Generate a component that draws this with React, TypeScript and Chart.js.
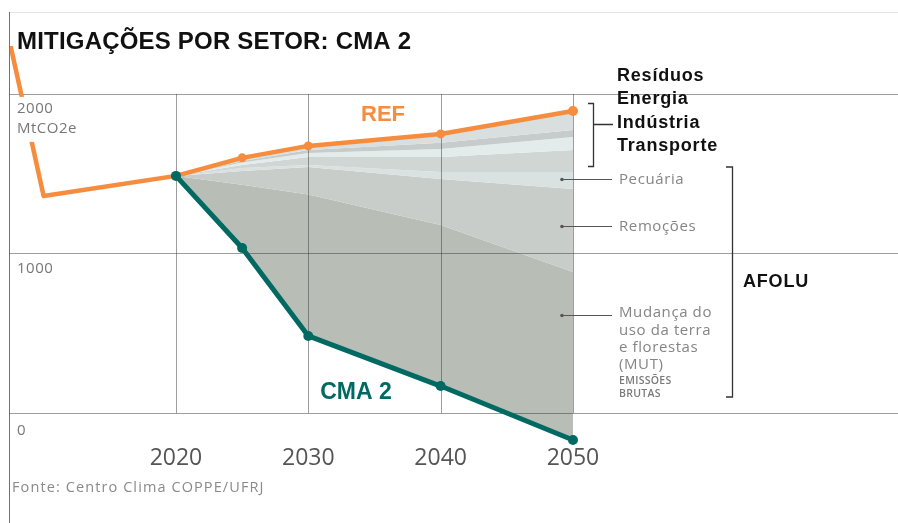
import React, { useEffect, useRef } from "react";
import { Chart, registerables } from "chart.js";

Chart.register(...registerables);

// ---- data ----
const refYears = [2005, 2010, 2020, 2025, 2030, 2040, 2050];
const refValues = [3245, 1360, 1486, 1599, 1674, 1749, 1893];
const bandYears = [2020, 2025, 2030, 2040, 2050];
const refBand = [1486, 1599, 1674, 1749, 1893];
const afterResiduos = [1486, 1580, 1649, 1693, 1774];
const afterEnergia = [1486, 1570, 1630, 1655, 1730];
const afterIndustria = [1486, 1555, 1605, 1605, 1649];
const afterTransporte = [1486, 1535, 1555, 1511, 1511];
const afterPecuaria = [1486, 1517, 1542, 1467, 1404];
const afterRemocoes = [1486, 1430, 1370, 1179, 884];
const cma2Values = [1486, 1034, 483, 169, -169];
const xTicks = [2020, 2030, 2040, 2050];
const yGrid = [0, 1000, 2000];
const yLabels = ["0", "1000", "2000"];
const sectorLabels = ["Resíduos", "Energia", "Indústria", "Transporte"];
const mutLines = ["Mudança do", "uso da terra", "e florestas", "(MUT)"];
const mutSmall = ["EMISSÕES", "BRUTAS"];

const ORANGE = "#f68c3e";
const TEAL = "#006a62";
const bandColors = ["#d8dfde", "#c6cccb", "#e4eceb", "#d0d6d4", "#d9e2e1", "#c8cdca", "#b8bdb6"];

const toPts = (xs: number[], ys: number[]) => xs.map((x, i) => ({ x, y: ys[i] }));

const overlay = {
  id: "overlay",
  afterDatasetDraw(chart: any, args: any) {
    if (args.index !== 2) return;
    const ctx = chart.ctx;
    const xs = chart.scales.x;
    const ys = chart.scales.y;
    const ca = chart.chartArea;
    ctx.save();
    ctx.strokeStyle = "rgba(60,60,60,0.5)";
    ctx.lineWidth = 1;
    yGrid.forEach((v) => {
      const y = Math.round(ys.getPixelForValue(v)) + 0.5;
      ctx.beginPath();
      ctx.moveTo(ca.left, y);
      ctx.lineTo(chart.width, y);
      ctx.stroke();
    });
    const yTop = ys.getPixelForValue(2000);
    const yBot = ys.getPixelForValue(0);
    xTicks.forEach((v) => {
      const x = Math.round(xs.getPixelForValue(v)) + 0.5;
      ctx.beginPath();
      ctx.moveTo(x, yTop);
      ctx.lineTo(x, yBot);
      ctx.stroke();
    });
    ctx.restore();
  },
  afterDatasetsDraw(chart: any) {
    const ctx = chart.ctx;
    const xs = chart.scales.x;
    const ys = chart.scales.y;
    ctx.save();
    // frame
    ctx.lineWidth = 1;
    ctx.strokeStyle = "#e4e4e4";
    ctx.beginPath();
    ctx.moveTo(9, 12.5);
    ctx.lineTo(898, 12.5);
    ctx.stroke();
    ctx.strokeStyle = "#5a7896";
    ctx.beginPath();
    ctx.moveTo(9.5, 12);
    ctx.lineTo(9.5, 523);
    ctx.stroke();

    // title
    ctx.fillStyle = "#111";
    ctx.textBaseline = "alphabetic";
    ctx.textAlign = "left";
    ctx.font = "bold 24px 'Liberation Sans', Arial, sans-serif";
    (ctx as any).letterSpacing = "0.2px";
    ctx.fillText("MITIGAÇÕES POR SETOR: CMA 2", 17, 49);
    (ctx as any).letterSpacing = "0px";

    // y labels
    const y2000 = ys.getPixelForValue(2000);
    ctx.fillStyle = "#fff";
    ctx.fillRect(11, y2000 + 3, 68, 45);
    ctx.fillStyle = "#777";
    ctx.font = "15px 'Open Sans', sans-serif";
    ctx.textBaseline = "middle";
    (ctx as any).letterSpacing = "0.5px";
    ctx.fillText(yLabels[2], 17, y2000 + 15);
    ctx.fillText("MtCO2e", 17, y2000 + 35);
    ctx.fillText(yLabels[1], 17, ys.getPixelForValue(1000) + 15);
    ctx.fillText(yLabels[0], 17, ys.getPixelForValue(0) + 18);
    (ctx as any).letterSpacing = "0px";

    // series labels
    ctx.textAlign = "center";
    ctx.fillStyle = ORANGE;
    ctx.font = "bold 22px 'Liberation Sans', Arial, sans-serif";
    ctx.fillText("REF", 383, 115);
    ctx.fillStyle = TEAL;
    ctx.font = "bold 23px 'Liberation Sans', Arial, sans-serif";
    ctx.fillText("CMA 2", 356, 393);

    // sector labels
    ctx.textAlign = "left";
    ctx.textBaseline = "alphabetic";
    ctx.fillStyle = "#111";
    ctx.font = "bold 18px 'Liberation Sans', Arial, sans-serif";
    (ctx as any).letterSpacing = "0.8px";
    sectorLabels.forEach((t, i) => ctx.fillText(t, 617, 81 + i * 23.3));
    ctx.fillText("AFOLU", 743, 287);
    (ctx as any).letterSpacing = "0px";

    // brackets
    ctx.strokeStyle = "#333";
    ctx.lineWidth = 1.3;
    ctx.beginPath();
    ctx.moveTo(588, 103.5);
    ctx.lineTo(593.5, 103.5);
    ctx.lineTo(593.5, 166.5);
    ctx.lineTo(588, 166.5);
    ctx.moveTo(593.5, 124.5);
    ctx.lineTo(613, 124.5);
    ctx.moveTo(726, 167);
    ctx.lineTo(732.5, 167);
    ctx.lineTo(732.5, 397);
    ctx.lineTo(726, 397);
    ctx.stroke();

    // leader lines
    const x50 = xs.getPixelForValue(2050);
    const leaders = [179.5, 226.5, 315.5];
    ctx.strokeStyle = "#555";
    ctx.lineWidth = 1;
    ctx.fillStyle = "#555";
    leaders.forEach((y) => {
      ctx.beginPath();
      ctx.moveTo(x50 - 11, y);
      ctx.lineTo(612, y);
      ctx.stroke();
      ctx.beginPath();
      ctx.arc(x50 - 11, y, 1.8, 0, Math.PI * 2);
      ctx.fill();
    });

    ctx.fillStyle = "#858585";
    ctx.font = "15px 'Open Sans', sans-serif";
    ctx.textBaseline = "middle";
    (ctx as any).letterSpacing = "0.6px";
    ctx.fillText("Pecuária", 619, 180);
    ctx.fillText("Remoções", 619, 227);
    mutLines.forEach((t, i) => ctx.fillText(t, 619, 313 + i * 17.3));
    ctx.font = "600 10.5px 'Open Sans', sans-serif";
    ctx.fillStyle = "#7a7a7a";
    (ctx as any).letterSpacing = "0.3px";
    mutSmall.forEach((t, i) => ctx.fillText(t, 619, 381 + i * 13));

    // source
    ctx.font = "14.5px 'Open Sans', sans-serif";
    ctx.fillStyle = "#8a8a8a";
    (ctx as any).letterSpacing = "1.1px";
    ctx.fillText("Fonte: Centro Clima COPPE/UFRJ", 12, 488);
    (ctx as any).letterSpacing = "0px";
    ctx.restore();
  },
};

export default function App() {
  const ref = useRef<HTMLCanvasElement | null>(null);
  useEffect(() => {
    if (!ref.current) return;
    const boundaries = [refBand, afterResiduos, afterEnergia, afterIndustria, afterTransporte, afterPecuaria, afterRemocoes, cma2Values];
    const chart = new Chart(ref.current, {
      type: "line",
      data: {
        datasets: [
          {
            label: "CMA 2",
            data: toPts(bandYears, cma2Values),
            borderColor: TEAL,
            backgroundColor: TEAL,
            borderWidth: 5,
            pointRadius: 5,
            pointHoverRadius: 5,
            pointBackgroundColor: TEAL,
            pointBorderWidth: 0,
            borderJoinStyle: "round",
            borderCapStyle: "round",
            fill: false,
            tension: 0,
          },
          {
            label: "REF",
            data: toPts(refYears, refValues),
            borderColor: ORANGE,
            backgroundColor: ORANGE,
            borderWidth: 4.5,
            pointRadius: [0, 0, 4.5, 4.5, 4.5, 4.5, 5],
            pointHoverRadius: 0,
            pointBackgroundColor: ORANGE,
            pointBorderWidth: 0,
            borderJoinStyle: "round",
            borderCapStyle: "round",
            fill: false,
            tension: 0,
            clip: 0,
          },
          ...boundaries.map((vals, i) => ({
            label: "b" + i,
            data: toPts(bandYears, vals),
            borderColor: "rgba(0,0,0,0)",
            borderWidth: 0,
            pointRadius: 0,
            pointHoverRadius: 0,
            fill: i < bandColors.length ? "+1" : false,
            backgroundColor: i < bandColors.length ? bandColors[i] : "rgba(0,0,0,0)",
            tension: 0,
          })),
        ] as any,
      },
      options: {
        animation: false,
        responsive: false,
        devicePixelRatio: 1,
        events: [],
        layout: { autoPadding: false, padding: { left: 10, top: 46, right: 0, bottom: 0 } },
        plugins: { legend: { display: false }, tooltip: { enabled: false } },
        scales: {
          x: {
            type: "linear",
            min: 2007.46,
            max: 2074.56,
            grid: { display: false, drawTicks: false },
            border: { display: false },
            ticks: {
              color: "#555",
              font: { family: "'Open Sans', sans-serif", size: 23 },
              padding: -2,
              autoSkip: false,
              maxRotation: 0,
              callback: (v: any) => String(v),
            },
            afterBuildTicks: (s: any) => {
              s.ticks = xTicks.map((v) => ({ value: v }));
            },
            afterFit: (s: any) => {
              s.height = 76;
              s.paddingLeft = 0;
              s.paddingRight = 0;
            },
          },
          y: { min: -213, max: 2300, display: false },
        },
      } as any,
      plugins: [overlay],
    });
    return () => chart.destroy();
  }, []);
  return (
    <div style={{ position: "absolute", left: 0, top: 0, width: 898, height: 523, background: "#fff" }}>
      <canvas ref={ref} width={898} height={523} style={{ display: "block" }} />
    </div>
  );
}
